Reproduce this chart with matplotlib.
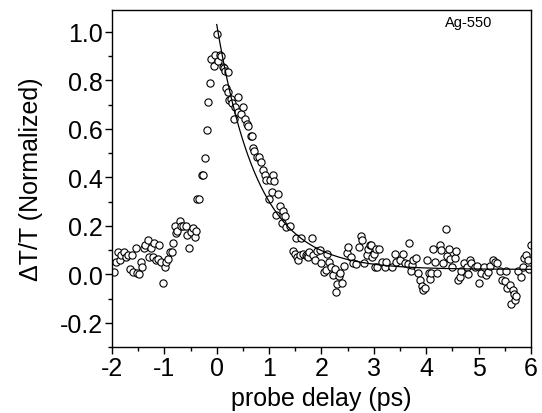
import numpy as np
import matplotlib
matplotlib.use("Agg")
import matplotlib.pyplot as plt
from matplotlib.ticker import MultipleLocator

plt.rcParams['font.family'] = ['Liberation Sans', 'DejaVu Sans']

# probe delay (ps) and normalized dT/T
delay_pre = [-1.96, -1.93, -1.89, -1.85, -1.82, -1.77, -1.73, -1.69, -1.66, -1.62,
             -1.59, -1.55, -1.53, -1.48, -1.45, -1.42, -1.39, -1.36, -1.32, -1.29,
             -1.26, -1.22, -1.19, -1.16, -1.12, -1.10, -1.07, -1.03, -0.99, -0.96,
             -0.93, -0.89, -0.86, -0.83, -0.80, -0.78, -0.75, -0.70, -0.68, -0.64,
             -0.59, -0.56, -0.52, -0.50, -0.46, -0.42, -0.40, -0.37, -0.33]
signal_pre = [0.01, 0.05, 0.09, 0.06, 0.08, 0.09, 0.07, 0.08, 0.02, 0.08,
              0.01, 0.11, 0.005, 0.00, 0.05, 0.03, 0.11, 0.12, 0.14, 0.07,
              0.11, 0.07, 0.13, 0.06, 0.065, 0.12, 0.05, -0.035, 0.03, 0.05,
              0.065, 0.09, 0.09, 0.13, 0.20, 0.17, 0.18, 0.22, 0.20, 0.20,
              0.20, 0.16, 0.11, 0.175, 0.19, 0.155, 0.18, 0.31, 0.31]

delay_peak = [-0.29, -0.27, -0.23, -0.19, -0.16, -0.13, -0.10, -0.06, -0.03, 0.00,
              0.03, 0.06, 0.09, 0.12, 0.14, 0.16, 0.18, 0.21, 0.22, 0.24,
              0.27, 0.30, 0.33, 0.35, 0.40, 0.41, 0.47, 0.51, 0.54, 0.57,
              0.60, 0.65, 0.67, 0.70, 0.71, 0.76, 0.81, 0.84, 0.88, 0.92,
              0.95, 1.00, 1.02, 1.05, 1.08, 1.09]
signal_peak = [0.41, 0.41, 0.48, 0.595, 0.71, 0.79, 0.89, 0.86, 0.905, 0.99,
               0.88, 0.905, 0.90, 0.857, 0.85, 0.84, 0.77, 0.835, 0.75, 0.72,
               0.725, 0.705, 0.64, 0.69, 0.73, 0.67, 0.66, 0.69, 0.64, 0.62,
               0.61, 0.57, 0.57, 0.52, 0.51, 0.485, 0.485, 0.465, 0.43, 0.41,
               0.39, 0.31, 0.39, 0.34, 0.41, 0.385]

delay_mid = [1.14, 1.17, 1.21, 1.24, 1.27, 1.30, 1.33, 1.40, 1.45, 1.49,
             1.51, 1.54, 1.56, 1.59, 1.60, 1.64, 1.70, 1.72, 1.75, 1.76,
             1.81, 1.83, 1.87, 1.92, 1.97, 2.00, 2.05, 2.08, 2.11, 2.15,
             2.19, 2.22, 2.26, 2.27, 2.30, 2.34, 2.36, 2.40, 2.43, 2.48,
             2.51, 2.57, 2.60, 2.66, 2.72, 2.75, 2.78, 2.81, 2.86, 2.89,
             2.92, 2.95, 2.97, 3.00, 3.03, 3.05]
signal_mid = [0.245, 0.33, 0.28, 0.21, 0.26, 0.24, 0.195, 0.20, 0.095, 0.085,
              0.15, 0.07, 0.06, 0.08, 0.15, 0.085, 0.08, 0.075, 0.07, 0.09,
              0.15, 0.08, 0.06, 0.095, 0.10, 0.047, 0.01, 0.017, 0.085, 0.05,
              0.03, -0.004, 0.023, -0.073, -0.04, -0.008, 0.005, -0.036, 0.033, 0.088,
              0.113, 0.07, 0.047, 0.044, 0.113, 0.157, 0.14, 0.047, 0.078, 0.106,
              0.12, 0.12, 0.07, 0.085, 0.03, 0.106]

delay_tail = [3.06, 3.10, 3.15, 3.21, 3.24, 3.34, 3.40, 3.43, 3.50, 3.56,
              3.59, 3.66, 3.67, 3.70, 3.72, 3.75, 3.80, 3.85, 3.88, 3.91,
              3.94, 3.97, 4.02, 4.06, 4.08, 4.10, 4.13, 4.16, 4.20, 4.26,
              4.28, 4.32, 4.37, 4.39, 4.44, 4.45, 4.50, 4.55, 4.57, 4.61,
              4.64, 4.67, 4.72, 4.77, 4.80, 4.83, 4.86, 4.93, 4.97, 5.01,
              5.05, 5.10, 5.15, 5.18, 5.22, 5.27, 5.31, 5.35, 5.40, 5.45,
              5.50, 5.53, 5.54, 5.60, 5.61, 5.65, 5.67, 5.69, 5.72, 5.75,
              5.80, 5.84, 5.86, 5.91, 5.94, 5.96, 6.00]
signal_tail = [0.028, 0.106, 0.05, 0.028, 0.05, 0.028, 0.085, 0.05, 0.058, 0.085,
               0.047, 0.041, 0.127, 0.014, 0.037, 0.058, 0.069, 0.005, -0.025, -0.05,
               -0.066, -0.055, 0.058, 0.005, -0.018, 0.005, 0.106, 0.05, 0.005, 0.12,
               0.10, 0.047, 0.185, 0.074, 0.106, 0.061, 0.028, 0.069, 0.096, -0.022,
               -0.011, 0.014, 0.047, 0.028, 0.0, 0.058, 0.047, 0.028, 0.033, -0.036,
               0.005, 0.028, -0.004, 0.01, 0.033, 0.058, 0.05, 0.047, 0.014, -0.022,
               -0.028, 0.014, -0.055, -0.045, -0.124, -0.063, -0.08, -0.105, -0.09, 0.014,
               -0.011, 0.028, 0.069, 0.078, 0.058, 0.023, 0.12]

delay = np.array(delay_pre + delay_peak + delay_mid + delay_tail)
signal = np.array(signal_pre + signal_peak + signal_mid + signal_tail)

# single-exponential fit parameters
fit_y0 = 0.02
fit_amp = 1.01
fit_tau = 0.78
fit_start, fit_end = 0.0, 6.0

fig = plt.figure(figsize=(5.42, 4.14), dpi=100)
ax = fig.add_axes([0.2066, 0.1594, 0.7731, 0.8140])

ax.plot(delay, signal, 'o', ms=5.2, mfc='white', mec='black', mew=0.8)

t_fit = np.linspace(fit_start, fit_end, 300)
ax.plot(t_fit, fit_y0 + fit_amp * np.exp(-t_fit / fit_tau), color='black', lw=0.9)

ax.set_xlim(-2, 6)
ax.set_ylim(-0.3, 1.09)
ax.xaxis.set_minor_locator(MultipleLocator(0.5))
ax.yaxis.set_minor_locator(MultipleLocator(0.1))
ax.set_yticks([-0.2, 0.0, 0.2, 0.4, 0.6, 0.8, 1.0])
ax.set_yticklabels(['-0.2', '0.0', '0.2', '0.4', '0.6', '0.8', '1.0'])
ax.set_xticks(range(-2, 7))
ax.set_xticklabels([str(v) for v in range(-2, 7)])

ax.tick_params(which='both', direction='out', width=1.0, labelsize=18,
               top=False, right=False)
ax.tick_params(which='major', length=5, pad=1.5)
ax.tick_params(which='minor', length=3)
for sp in ax.spines.values():
    sp.set_linewidth(1.0)

ax.set_xlabel('probe delay (ps)', fontsize=18, labelpad=4.5)
ax.set_ylabel('ΔT/T (Normalized)', fontsize=18, labelpad=12)
ax.text(0.907, 0.985, 'Ag-550', transform=ax.transAxes, ha='right', va='top',
        fontsize=10.5)

fig.savefig('out.png', dpi=100)
